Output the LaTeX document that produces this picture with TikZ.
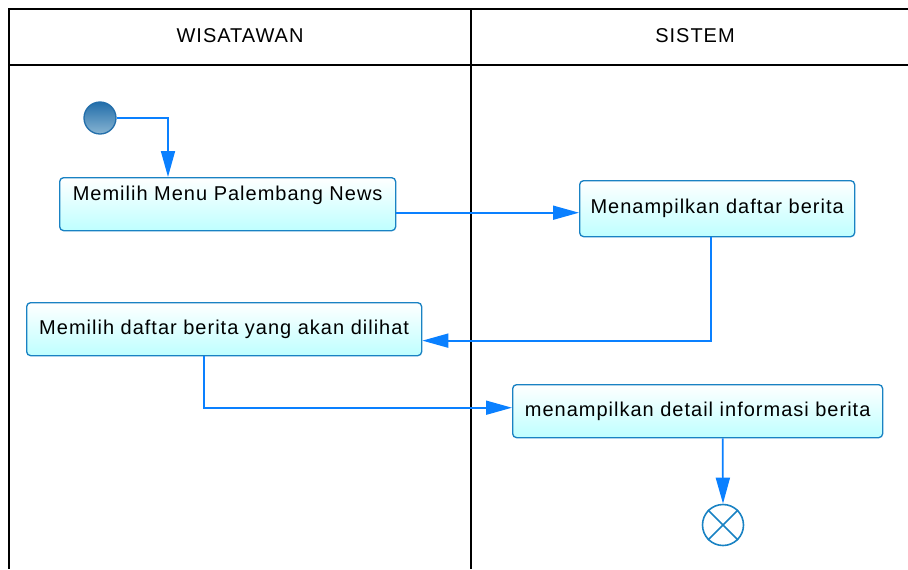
\documentclass[tikz,border=0pt]{standalone}
\usepackage{fontspec}
\setmainfont{Liberation Sans}[LetterSpace=5]
\usetikzlibrary{arrows.meta}

\definecolor{flowblue}{RGB}{10,128,255}
\definecolor{boxline}{RGB}{25,130,195}
\definecolor{boxfill}{RGB}{190,255,255}
\definecolor{balltop}{RGB}{35,110,170}
\definecolor{ballbottom}{RGB}{135,180,210}

\begin{document}
\begin{tikzpicture}[x=0.75pt,y=-0.75pt,
  actbox/.style={draw=boxline,line width=1pt,rounded corners=3pt,top color=white,bottom color=boxfill,anchor=north west,inner sep=0pt,font=\fontsize{15}{17}\selectfont},
  lanehead/.style={font=\fontsize{15}{17}\selectfont},
  flow/.style={draw=flowblue,line width=1.3pt,-{Stealth[length=19.5pt,width=10.5pt,inset=0pt]}}]
%
\useasboundingbox (0,0) rectangle (908,569);
%
% swimlanes
\draw[line width=1.2pt] (908,9) -- (9,9) -- (9,569);
\draw[line width=1.2pt] (9,65) -- (908,65);
\draw[line width=1.2pt] (471,9) -- (471,569);
\node[lanehead] (wisatawan) at (240,36) {WISATAWAN};
\node[lanehead] (sistem) at (695,36) {SISTEM};
%
% start and end
\node[circle,draw=balltop,line width=1pt,top color=balltop,bottom color=ballbottom,minimum size=24pt,inner sep=0pt] (start) at (100,118) {};
\node[circle,draw=boxline,line width=1.2pt,minimum size=30.75pt,inner sep=0pt] (final) at (723,525) {};
\draw[boxline,line width=1.2pt] (final.north east) -- (final.south west);
\draw[boxline,line width=1.2pt] (final.north west) -- (final.south east);
%
% actions
\node[actbox,minimum width=252pt,minimum height=39.75pt,text depth=17pt] (pilihmenu) at (59,177) {Memilih Menu Palembang News};
\node[actbox,minimum width=206.25pt,minimum height=42pt] (daftar) at (579,180) {Menampilkan daftar berita};
\node[actbox,minimum width=296.25pt,minimum height=39.75pt] (pilihberita) at (26,302) {Memilih daftar berita yang akan dilihat};
\node[actbox,minimum width=277.5pt,minimum height=39.75pt] (detail) at (512,384) {menampilkan detail informasi berita};
%
% flows
\draw[flow] (start.east) -| ([xshift=81.75pt]pilihmenu.north west);
\draw[flow] ([yshift=-6.4pt]pilihmenu.east) -- ([yshift=-6.4pt]pilihmenu.east -| daftar.west);
\draw[flow] ([xshift=-4.9pt]daftar.south) |- ([yshift=-8.6pt]pilihberita.east);
\draw[flow] ([xshift=-15.4pt]pilihberita.south) |- ([yshift=2.6pt]detail.west);
\draw[flow] ([xshift=18.75pt]detail.south) -- (final.north);
%
\end{tikzpicture}
\end{document}
